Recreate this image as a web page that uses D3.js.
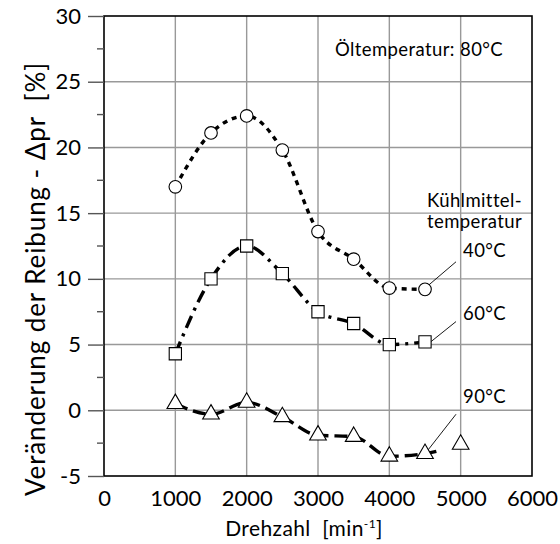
<!DOCTYPE html>
<html>
<head>
<meta charset="utf-8">
<script src="https://cdn.jsdelivr.net/npm/d3@7"></script>
<style>
  html, body { margin: 0; padding: 0; background: #fff; }
  svg { display: block; }
  text { font-family: Lato, "Open Sans", sans-serif; fill: #000; white-space: pre; }
</style>
</head>
<body>
<svg id="chart" width="560" height="544"></svg>
<script>
// Drehzahl (min^-1)
const speeds = [1000, 1500, 2000, 2500, 3000, 3500, 4000, 4500];
const speeds90 = [1000, 1500, 2000, 2500, 3000, 3500, 4000, 4500, 5000];

// Veränderung der Reibung (%) je Kühlmitteltemperatur
const values40 = [17.0, 21.1, 22.4, 19.8, 13.6, 11.5, 9.3, 9.2];
const values60 = [4.3, 10.0, 12.5, 10.4, 7.5, 6.6, 5.0, 5.2];
const values90 = [0.5, -0.3, 0.6, -0.5, -1.9, -2.0, -3.5, -3.3, -2.6];

const xTicks = [0, 1000, 2000, 3000, 4000, 5000, 6000];
const yTicks = [-5, 0, 5, 10, 15, 20, 25, 30];
const yMinorTicks = [-2.5, 2.5, 7.5, 12.5, 17.5, 22.5, 27.5];

const svg = d3.select("#chart");
const m = { left: 104, right: 28, top: 16, bottom: 68 };
const W = 560, H = 544;

const x = d3.scaleLinear().domain([0, 6000]).range([m.left, W - m.right]);
const y = d3.scaleLinear().domain([-5, 30]).range([H - m.bottom, m.top]);

// plain hyphen for negative tick values
const fmt = d => (d < 0 ? "-" : "") + Math.abs(d);

// Gitterlinien
const grid = svg.append("g").attr("stroke", "#999").attr("stroke-width", 1.4);
grid.selectAll("line.v").data(xTicks.filter(d => d > 0 && d < 6000)).join("line")
  .attr("x1", d => x(d)).attr("x2", d => x(d))
  .attr("y1", y(30)).attr("y2", y(-5));
grid.selectAll("line.h").data(yTicks.filter(d => d > -5 && d < 30)).join("line")
  .attr("x1", x(0)).attr("x2", x(6000))
  .attr("y1", d => y(d)).attr("y2", d => y(d));

// Rahmen
svg.append("rect")
  .attr("x", x(0)).attr("y", y(30))
  .attr("width", x(6000) - x(0)).attr("height", y(-5) - y(30))
  .attr("fill", "none").attr("stroke", "#000").attr("stroke-width", 1.6);

// Y-Achse: Haupt- und Nebenstriche nach außen
const yAxis = d3.axisLeft(y).tickValues(yTicks).tickSize(16).tickPadding(7).tickFormat(fmt);
const gy = svg.append("g").attr("transform", `translate(${x(0)},0)`).call(yAxis);
gy.select(".domain").remove();
gy.selectAll(".tick line").attr("stroke", "#555").attr("stroke-width", 1.4);
gy.selectAll(".tick text").style("font-size", "22px").style("font-family", "Lato, sans-serif");
svg.append("g").selectAll("line").data(yMinorTicks).join("line")
  .attr("x1", x(0) - 7).attr("x2", x(0))
  .attr("y1", d => y(d)).attr("y2", d => y(d))
  .attr("stroke", "#555").attr("stroke-width", 1.4);

// X-Achse
const xAxis = d3.axisBottom(x).tickValues(xTicks).tickSize(0).tickPadding(14).tickFormat(fmt);
const gx = svg.append("g").attr("transform", `translate(0,${y(-5)})`).call(xAxis);
gx.select(".domain").remove();
gx.selectAll(".tick text").style("font-size", "22px").style("font-family", "Lato, sans-serif");

// Achsentitel
const xt = svg.append("text").attr("x", (x(0) + x(6000)) / 2 - 14).attr("y", 536)
  .attr("text-anchor", "middle").style("font-size", "21px").style("letter-spacing", "0.4px");
xt.append("tspan").text("Drehzahl  [min");
xt.append("tspan").attr("dy", -8).style("font-size", "12px").text("-1");
xt.append("tspan").attr("dy", 8).text("]");

svg.append("text")
  .attr("transform", `translate(45,279) rotate(-90)`)
  .attr("text-anchor", "middle").style("font-size", "26px").style("letter-spacing", "0.9px")
  .text("Veränderung der Reibung - Δpr  [%]");

// Kurven
const line = d3.line().x(d => x(d[0])).y(d => y(d[1])).curve(d3.curveMonotoneX);

svg.append("defs").append("clipPath").attr("id", "clip90")
  .append("rect").attr("x", x(0)).attr("y", y(30))
  .attr("width", x(4680) - x(0)).attr("height", y(-5) - y(30));

const series = [
  { xs: speeds, ys: values40, dash: "5,5", shape: "circle" },
  { xs: speeds, ys: values60, dash: "13,6,3,6", shape: "square" },
  { xs: speeds90, ys: values90, dash: "13,6", shape: "triangle", clip: "url(#clip90)" }
];

series.forEach(s => {
  const pts = s.xs.map((v, i) => [v, s.ys[i]]);
  svg.append("path").datum(pts)
    .attr("d", line)
    .attr("fill", "none").attr("stroke", "#000").attr("stroke-width", 3.4)
    .attr("stroke-dasharray", s.dash)
    .attr("clip-path", s.clip || null);
});

// Leitlinien zu den Beschriftungen (Datenkoordinaten)
const leaders = [
  { from: [4546, 9.5], to: [4935, 11.3] },
  { from: [4510, 4.9], to: [4935, 6.75] },
  { from: [4524, -3.15], to: [4935, -0.3] }
];
svg.append("g").selectAll("line").data(leaders).join("line")
  .attr("x1", d => x(d.from[0])).attr("y1", d => y(d.from[1]))
  .attr("x2", d => x(d.to[0])).attr("y2", d => y(d.to[1]))
  .attr("stroke", "#000").attr("stroke-width", 0.9);

// Marker
const sym = {
  circle: d3.symbol().type(d3.symbolCircle).size(125),
  square: d3.symbol().type(d3.symbolSquare).size(150),
  triangle: d3.symbol().type(d3.symbolTriangle).size(120)
};
series.forEach(s => {
  const pts = s.xs.map((v, i) => [v, s.ys[i]]);
  svg.append("g").selectAll("path").data(pts).join("path")
    .attr("transform", d => `translate(${x(d[0])},${y(d[1])})`)
    .attr("d", sym[s.shape])
    .attr("fill", "#fff").attr("stroke", "#000").attr("stroke-width", 1.1);
});

// Beschriftungen
const lab = (tx, ty, t) => svg.append("text")
  .attr("x", tx).attr("y", ty)
  .style("font-size", "18.5px").style("letter-spacing", "0.4px").text(t);
lab(335, 56, "Öltemperatur: 80°C");
lab(427, 207, "Kühlmittel-");
lab(427, 228, "temperatur");
lab(463, 257, "40°C");
lab(463, 320, "60°C");
lab(463, 403, "90°C");
</script>
</body>
</html>
